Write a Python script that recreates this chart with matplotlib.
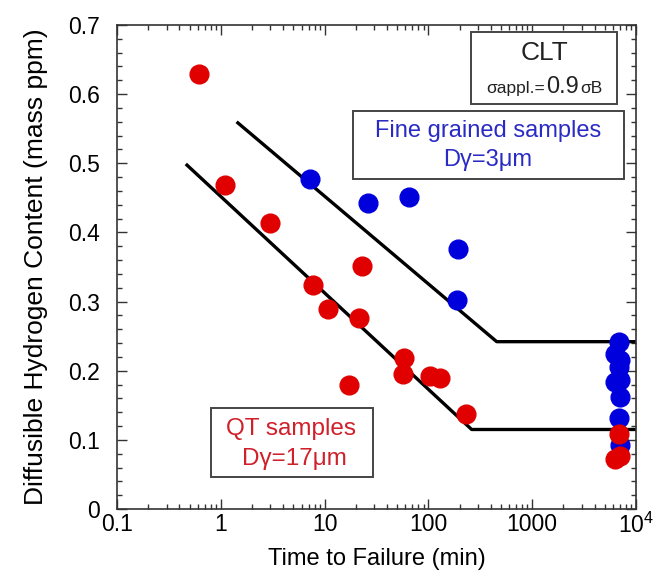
import matplotlib
matplotlib.use("Agg")
import matplotlib.pyplot as plt
from matplotlib.patches import Rectangle
from matplotlib.ticker import FixedLocator, LogLocator, NullFormatter, MultipleLocator
import numpy as np

plt.rcParams['font.family'] = ['Liberation Sans', 'DejaVu Sans']
plt.rcParams['mathtext.default'] = 'regular'

# QT samples (red)
qt_time = [0.61, 1.10, 3.0, 23.1, 7.7, 10.9, 21.4, 17.3, 58.6, 57.3, 104, 129, 229, 6900, 6300, 7000]
qt_h = [0.629, 0.469, 0.414, 0.351, 0.324, 0.289, 0.276, 0.179, 0.219, 0.195, 0.193, 0.189, 0.137, 0.109, 0.073, 0.077]

# fine grained samples (blue)
fg_time = [7.2, 26.2, 65.5, 194, 190, 6900, 6300, 7000, 6900, 6300, 7000, 7000, 6800, 7000]
fg_h = [0.477, 0.442, 0.451, 0.376, 0.302, 0.241, 0.224, 0.215, 0.206, 0.184, 0.187, 0.162, 0.131, 0.093]

# trend lines (start, knee, right edge)
qt_line_t = [0.46, 261, 10000]
qt_line_h = [0.499, 0.115, 0.115]
fg_line_t = [1.42, 455, 10000]
fg_line_h = [0.560, 0.242, 0.242]

x_ticks = [0.1, 1, 10, 100, 1000, 10000]
x_labels = ['0.1', '1', '10', '100', '1000', '10$^4$']
y_ticks = [0, 0.1, 0.2, 0.3, 0.4, 0.5, 0.6, 0.7]
y_labels = ['0', '0.1', '0.2', '0.3', '0.4', '0.5', '0.6', '0.7']

red = '#e00000'
blue = '#0000dd'

fig = plt.figure(figsize=(6.55, 5.76), dpi=100)
ax = fig.add_axes([117 / 655, 1 - 509 / 576, 519 / 655, 484 / 576])

ax.plot(qt_line_t, qt_line_h, color='black', lw=2.4, zorder=2, solid_capstyle='butt')
ax.plot(fg_line_t, fg_line_h, color='black', lw=2.4, zorder=2, solid_capstyle='butt')

ax.plot(fg_time, fg_h, 'o', ms=13.5, color=blue, mec=blue, zorder=3, clip_on=False)
ax.plot(qt_time, qt_h, 'o', ms=13.5, color=red, mec=red, zorder=4, clip_on=False)

ax.set_xscale('log')
ax.set_xlim(0.1, 10000)
ax.set_ylim(0, 0.7)

ax.xaxis.set_major_locator(FixedLocator(x_ticks))
ax.set_xticklabels(x_labels)
ax.xaxis.set_minor_locator(LogLocator(base=10, subs=np.arange(2, 10)))
ax.xaxis.set_minor_formatter(NullFormatter())
ax.set_yticks(y_ticks)
ax.set_yticklabels(y_labels)
ax.yaxis.set_minor_locator(MultipleLocator(0.02))

ax.tick_params(which='both', direction='in', top=True, right=True, width=1.0, color='#333333')
ax.tick_params(which='major', length=7)
ax.tick_params(which='minor', length=3.5)
ax.tick_params(axis='x', which='major', labelsize=16.5, pad=3)
ax.tick_params(axis='y', which='major', labelsize=16.5, pad=12)
for spine in ax.spines.values():
    spine.set_linewidth(1.2)
    spine.set_color('#333333')

ax.set_xlabel('Time to Failure (min)', fontsize=17, labelpad=7)
ax.set_ylabel('Diffusible Hydrogen Content (mass ppm)', fontsize=19, labelpad=15)


def ax_box(x0, y0, x1, y1):
    # box given in figure pixels (top-left origin)
    xa0 = (x0 - 117) / 519
    xa1 = (x1 - 117) / 519
    ya0 = (509 - y1) / 484
    ya1 = (509 - y0) / 484
    ax.add_patch(Rectangle((xa0, ya0), xa1 - xa0, ya1 - ya0, transform=ax.transAxes,
                           fill=True, facecolor='white', edgecolor='#444444', lw=1.4,
                           zorder=5, clip_on=False))


ax_box(471, 32, 617, 104)
ax_box(353, 111, 624, 179)
ax_box(211, 408, 373, 477)

tk = dict(transform=ax.transAxes, zorder=6, va='baseline')
ax.text(0.8233, 0.9277, 'CLT', fontsize=19, color='#222222', ha='center', **tk)
ax.text(0.8247, 0.8589, 'σappl.=', fontsize=12.5, color='#222222', ha='right', **tk)
ax.text(0.8584, 0.8589, '0.9', fontsize=17, color='#222222', ha='center', **tk)
ax.text(0.8921, 0.8589, 'σB', fontsize=12.5, color='#222222', ha='left', **tk)

ax.text(0.715, 0.7686, 'Fine grained samples', fontsize=17, color='#2a2ac4', ha='center', **tk)
ax.text(0.715, 0.7087, 'Dγ=3μm', fontsize=17, color='#2a2ac4', ha='center', **tk)

ax.text(0.335, 0.1529, 'QT samples', fontsize=17.5, color='#d0202a', ha='center', **tk)
ax.text(0.342, 0.0909, 'Dγ=17μm', fontsize=17.5, color='#d0202a', ha='center', **tk)

fig.savefig('out.png', dpi=100)
